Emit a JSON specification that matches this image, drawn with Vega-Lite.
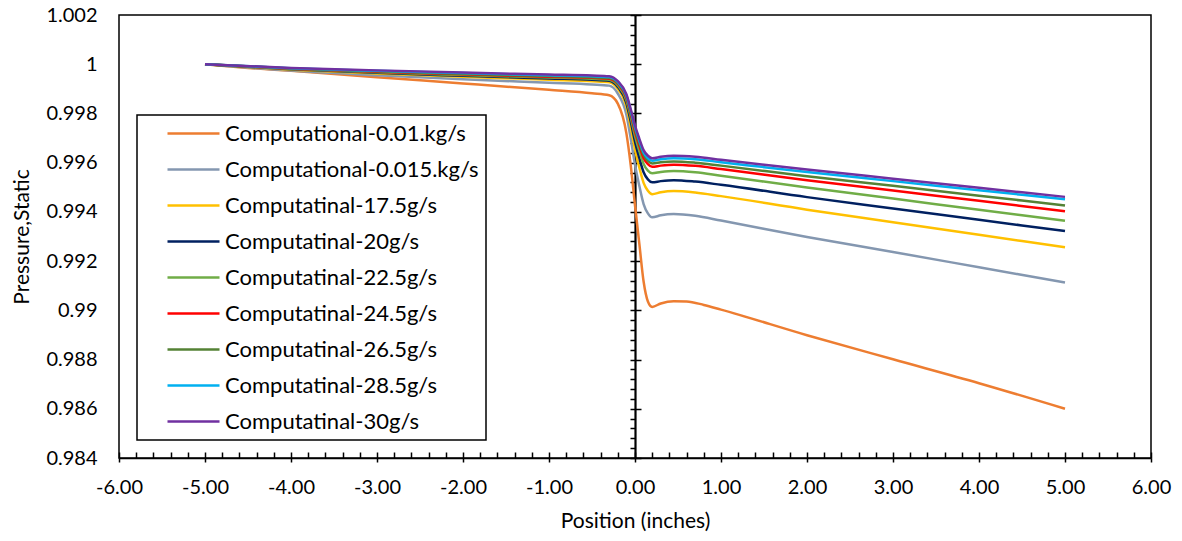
{
"$schema": "https://vega.github.io/schema/vega-lite/v6.json",
"width": 1032, "height": 443,
"autosize": "none",
"padding": {"left": 119, "top": 15, "right": 31, "bottom": 83},
"background": "white",
"config": {"view": {"stroke": "black", "strokeWidth": 1.5}, "font": "Lato",
  "locale": {"number": {"decimal": ".", "thousands": ",", "grouping": [3], "currency": ["$", ""], "minus": "-"}},
  "axis": {"labelColor": "black", "tickColor": "black", "domainColor": "black", "titleColor": "black", "grid": false}},
"data": {"values": [
{"s":"Computational-0.01.kg/s","x":-5,"y":1.0},{"s":"Computational-0.01.kg/s","x":-4.5,"y":0.99985},{"s":"Computational-0.01.kg/s","x":-4,"y":0.99973},{"s":"Computational-0.01.kg/s","x":-3,"y":0.99947},{"s":"Computational-0.01.kg/s","x":-2,"y":0.99922},{"s":"Computational-0.01.kg/s","x":-1,"y":0.99896},{"s":"Computational-0.01.kg/s","x":-0.5,"y":0.99882},{"s":"Computational-0.01.kg/s","x":-0.3,"y":0.99874},{"s":"Computational-0.01.kg/s","x":-0.2,"y":0.9984},{"s":"Computational-0.01.kg/s","x":-0.1,"y":0.99719},{"s":"Computational-0.01.kg/s","x":-0.05,"y":0.9959},{"s":"Computational-0.01.kg/s","x":0,"y":0.99427},{"s":"Computational-0.01.kg/s","x":0.05,"y":0.99272},{"s":"Computational-0.01.kg/s","x":0.1,"y":0.99117},{"s":"Computational-0.01.kg/s","x":0.15,"y":0.99036},{"s":"Computational-0.01.kg/s","x":0.2,"y":0.99014},{"s":"Computational-0.01.kg/s","x":0.3,"y":0.99028},{"s":"Computational-0.01.kg/s","x":0.45,"y":0.99037},{"s":"Computational-0.01.kg/s","x":0.6,"y":0.99036},{"s":"Computational-0.01.kg/s","x":0.8,"y":0.99022},{"s":"Computational-0.01.kg/s","x":1,"y":0.99003},{"s":"Computational-0.01.kg/s","x":2,"y":0.98899},{"s":"Computational-0.01.kg/s","x":3,"y":0.98801},{"s":"Computational-0.01.kg/s","x":4,"y":0.98704},{"s":"Computational-0.01.kg/s","x":5,"y":0.986},
{"s":"Computational-0.015.kg/s","x":-5,"y":1.0},{"s":"Computational-0.015.kg/s","x":-4,"y":0.99974},{"s":"Computational-0.015.kg/s","x":-3,"y":0.99955},{"s":"Computational-0.015.kg/s","x":-2,"y":0.99939},{"s":"Computational-0.015.kg/s","x":-1,"y":0.99925},{"s":"Computational-0.015.kg/s","x":-0.5,"y":0.99918},{"s":"Computational-0.015.kg/s","x":-0.3,"y":0.99913},{"s":"Computational-0.015.kg/s","x":-0.2,"y":0.99881},{"s":"Computational-0.015.kg/s","x":-0.1,"y":0.99795},{"s":"Computational-0.015.kg/s","x":-0.05,"y":0.99699},{"s":"Computational-0.015.kg/s","x":0,"y":0.99592},{"s":"Computational-0.015.kg/s","x":0.05,"y":0.99506},{"s":"Computational-0.015.kg/s","x":0.1,"y":0.99432},{"s":"Computational-0.015.kg/s","x":0.15,"y":0.99394},{"s":"Computational-0.015.kg/s","x":0.2,"y":0.99378},{"s":"Computational-0.015.kg/s","x":0.3,"y":0.99386},{"s":"Computational-0.015.kg/s","x":0.45,"y":0.99391},{"s":"Computational-0.015.kg/s","x":0.7,"y":0.99384},{"s":"Computational-0.015.kg/s","x":1,"y":0.99365},{"s":"Computational-0.015.kg/s","x":2,"y":0.99298},{"s":"Computational-0.015.kg/s","x":3,"y":0.99237},{"s":"Computational-0.015.kg/s","x":4,"y":0.99175},{"s":"Computational-0.015.kg/s","x":5,"y":0.99113},
{"s":"Computatinal-17.5g/s","x":-5,"y":1.0},{"s":"Computatinal-17.5g/s","x":-4,"y":0.99978},{"s":"Computatinal-17.5g/s","x":-3,"y":0.99962},{"s":"Computatinal-17.5g/s","x":-2,"y":0.99949},{"s":"Computatinal-17.5g/s","x":-1,"y":0.99937},{"s":"Computatinal-17.5g/s","x":-0.5,"y":0.99931},{"s":"Computatinal-17.5g/s","x":-0.3,"y":0.99927},{"s":"Computatinal-17.5g/s","x":-0.2,"y":0.999},{"s":"Computatinal-17.5g/s","x":-0.1,"y":0.99827},{"s":"Computatinal-17.5g/s","x":-0.05,"y":0.99745},{"s":"Computatinal-17.5g/s","x":0,"y":0.99654},{"s":"Computatinal-17.5g/s","x":0.05,"y":0.99581},{"s":"Computatinal-17.5g/s","x":0.1,"y":0.99518},{"s":"Computatinal-17.5g/s","x":0.15,"y":0.99486},{"s":"Computatinal-17.5g/s","x":0.2,"y":0.99472},{"s":"Computatinal-17.5g/s","x":0.3,"y":0.9948},{"s":"Computatinal-17.5g/s","x":0.45,"y":0.99485},{"s":"Computatinal-17.5g/s","x":0.7,"y":0.99479},{"s":"Computatinal-17.5g/s","x":1,"y":0.99464},{"s":"Computatinal-17.5g/s","x":2,"y":0.99409},{"s":"Computatinal-17.5g/s","x":3,"y":0.99358},{"s":"Computatinal-17.5g/s","x":4,"y":0.99307},{"s":"Computatinal-17.5g/s","x":5,"y":0.99256},
{"s":"Computatinal-20g/s","x":-5,"y":1.0},{"s":"Computatinal-20g/s","x":-4,"y":0.9998},{"s":"Computatinal-20g/s","x":-3,"y":0.99965},{"s":"Computatinal-20g/s","x":-2,"y":0.99953},{"s":"Computatinal-20g/s","x":-1,"y":0.99942},{"s":"Computatinal-20g/s","x":-0.5,"y":0.99937},{"s":"Computatinal-20g/s","x":-0.3,"y":0.99933},{"s":"Computatinal-20g/s","x":-0.2,"y":0.99908},{"s":"Computatinal-20g/s","x":-0.1,"y":0.99842},{"s":"Computatinal-20g/s","x":-0.05,"y":0.99768},{"s":"Computatinal-20g/s","x":0,"y":0.99685},{"s":"Computatinal-20g/s","x":0.05,"y":0.99619},{"s":"Computatinal-20g/s","x":0.1,"y":0.99561},{"s":"Computatinal-20g/s","x":0.15,"y":0.99532},{"s":"Computatinal-20g/s","x":0.2,"y":0.9952},{"s":"Computatinal-20g/s","x":0.3,"y":0.99525},{"s":"Computatinal-20g/s","x":0.45,"y":0.99529},{"s":"Computatinal-20g/s","x":0.7,"y":0.99523},{"s":"Computatinal-20g/s","x":1,"y":0.9951},{"s":"Computatinal-20g/s","x":2,"y":0.9946},{"s":"Computatinal-20g/s","x":3,"y":0.99414},{"s":"Computatinal-20g/s","x":4,"y":0.99368},{"s":"Computatinal-20g/s","x":5,"y":0.99322},
{"s":"Computatinal-22.5g/s","x":-5,"y":1.0},{"s":"Computatinal-22.5g/s","x":-4,"y":0.99981},{"s":"Computatinal-22.5g/s","x":-3,"y":0.99967},{"s":"Computatinal-22.5g/s","x":-2,"y":0.99956},{"s":"Computatinal-22.5g/s","x":-1,"y":0.99946},{"s":"Computatinal-22.5g/s","x":-0.5,"y":0.99941},{"s":"Computatinal-22.5g/s","x":-0.3,"y":0.99937},{"s":"Computatinal-22.5g/s","x":-0.2,"y":0.99914},{"s":"Computatinal-22.5g/s","x":-0.1,"y":0.99853},{"s":"Computatinal-22.5g/s","x":-0.05,"y":0.99785},{"s":"Computatinal-22.5g/s","x":0,"y":0.99709},{"s":"Computatinal-22.5g/s","x":0.05,"y":0.99648},{"s":"Computatinal-22.5g/s","x":0.1,"y":0.99595},{"s":"Computatinal-22.5g/s","x":0.15,"y":0.99568},{"s":"Computatinal-22.5g/s","x":0.2,"y":0.99557},{"s":"Computatinal-22.5g/s","x":0.3,"y":0.99562},{"s":"Computatinal-22.5g/s","x":0.45,"y":0.99566},{"s":"Computatinal-22.5g/s","x":0.7,"y":0.99561},{"s":"Computatinal-22.5g/s","x":1,"y":0.99547},{"s":"Computatinal-22.5g/s","x":2,"y":0.99499},{"s":"Computatinal-22.5g/s","x":3,"y":0.99454},{"s":"Computatinal-22.5g/s","x":4,"y":0.99409},{"s":"Computatinal-22.5g/s","x":5,"y":0.99364},
{"s":"Computatinal-24.5g/s","x":-5,"y":1.0},{"s":"Computatinal-24.5g/s","x":-4,"y":0.99982},{"s":"Computatinal-24.5g/s","x":-3,"y":0.99969},{"s":"Computatinal-24.5g/s","x":-2,"y":0.99959},{"s":"Computatinal-24.5g/s","x":-1,"y":0.99949},{"s":"Computatinal-24.5g/s","x":-0.5,"y":0.99945},{"s":"Computatinal-24.5g/s","x":-0.3,"y":0.99941},{"s":"Computatinal-24.5g/s","x":-0.2,"y":0.9992},{"s":"Computatinal-24.5g/s","x":-0.1,"y":0.99862},{"s":"Computatinal-24.5g/s","x":-0.05,"y":0.99798},{"s":"Computatinal-24.5g/s","x":0,"y":0.99726},{"s":"Computatinal-24.5g/s","x":0.05,"y":0.99669},{"s":"Computatinal-24.5g/s","x":0.1,"y":0.99619},{"s":"Computatinal-24.5g/s","x":0.15,"y":0.99594},{"s":"Computatinal-24.5g/s","x":0.2,"y":0.99583},{"s":"Computatinal-24.5g/s","x":0.3,"y":0.99588},{"s":"Computatinal-24.5g/s","x":0.45,"y":0.99592},{"s":"Computatinal-24.5g/s","x":0.7,"y":0.99587},{"s":"Computatinal-24.5g/s","x":1,"y":0.99574},{"s":"Computatinal-24.5g/s","x":2,"y":0.99529},{"s":"Computatinal-24.5g/s","x":3,"y":0.99487},{"s":"Computatinal-24.5g/s","x":4,"y":0.99445},{"s":"Computatinal-24.5g/s","x":5,"y":0.99403},
{"s":"Computatinal-26.5g/s","x":-5,"y":1.0},{"s":"Computatinal-26.5g/s","x":-4,"y":0.99983},{"s":"Computatinal-26.5g/s","x":-3,"y":0.99971},{"s":"Computatinal-26.5g/s","x":-2,"y":0.99961},{"s":"Computatinal-26.5g/s","x":-1,"y":0.99952},{"s":"Computatinal-26.5g/s","x":-0.5,"y":0.99947},{"s":"Computatinal-26.5g/s","x":-0.3,"y":0.99944},{"s":"Computatinal-26.5g/s","x":-0.2,"y":0.99923},{"s":"Computatinal-26.5g/s","x":-0.1,"y":0.99868},{"s":"Computatinal-26.5g/s","x":-0.05,"y":0.99805},{"s":"Computatinal-26.5g/s","x":0,"y":0.99736},{"s":"Computatinal-26.5g/s","x":0.05,"y":0.9968},{"s":"Computatinal-26.5g/s","x":0.1,"y":0.99632},{"s":"Computatinal-26.5g/s","x":0.15,"y":0.99607},{"s":"Computatinal-26.5g/s","x":0.2,"y":0.99597},{"s":"Computatinal-26.5g/s","x":0.3,"y":0.99602},{"s":"Computatinal-26.5g/s","x":0.45,"y":0.99605},{"s":"Computatinal-26.5g/s","x":0.7,"y":0.996},{"s":"Computatinal-26.5g/s","x":1,"y":0.99588},{"s":"Computatinal-26.5g/s","x":2,"y":0.99545},{"s":"Computatinal-26.5g/s","x":3,"y":0.99506},{"s":"Computatinal-26.5g/s","x":4,"y":0.99466},{"s":"Computatinal-26.5g/s","x":5,"y":0.99426},
{"s":"Computatinal-28.5g/s","x":-5,"y":1.0},{"s":"Computatinal-28.5g/s","x":-4,"y":0.99984},{"s":"Computatinal-28.5g/s","x":-3,"y":0.99973},{"s":"Computatinal-28.5g/s","x":-2,"y":0.99964},{"s":"Computatinal-28.5g/s","x":-1,"y":0.99955},{"s":"Computatinal-28.5g/s","x":-0.5,"y":0.99951},{"s":"Computatinal-28.5g/s","x":-0.3,"y":0.99948},{"s":"Computatinal-28.5g/s","x":-0.2,"y":0.99928},{"s":"Computatinal-28.5g/s","x":-0.1,"y":0.99873},{"s":"Computatinal-28.5g/s","x":-0.05,"y":0.99812},{"s":"Computatinal-28.5g/s","x":0,"y":0.99744},{"s":"Computatinal-28.5g/s","x":0.05,"y":0.9969},{"s":"Computatinal-28.5g/s","x":0.1,"y":0.99642},{"s":"Computatinal-28.5g/s","x":0.15,"y":0.99618},{"s":"Computatinal-28.5g/s","x":0.2,"y":0.99608},{"s":"Computatinal-28.5g/s","x":0.3,"y":0.99614},{"s":"Computatinal-28.5g/s","x":0.45,"y":0.99618},{"s":"Computatinal-28.5g/s","x":0.7,"y":0.99614},{"s":"Computatinal-28.5g/s","x":1,"y":0.99602},{"s":"Computatinal-28.5g/s","x":2,"y":0.99562},{"s":"Computatinal-28.5g/s","x":3,"y":0.99525},{"s":"Computatinal-28.5g/s","x":4,"y":0.99488},{"s":"Computatinal-28.5g/s","x":5,"y":0.99451},
{"s":"Computatinal-30g/s","x":-5,"y":1.0},{"s":"Computatinal-30g/s","x":-4,"y":0.99985},{"s":"Computatinal-30g/s","x":-3,"y":0.99975},{"s":"Computatinal-30g/s","x":-2,"y":0.99966},{"s":"Computatinal-30g/s","x":-1,"y":0.99958},{"s":"Computatinal-30g/s","x":-0.5,"y":0.99954},{"s":"Computatinal-30g/s","x":-0.3,"y":0.99951},{"s":"Computatinal-30g/s","x":-0.2,"y":0.99931},{"s":"Computatinal-30g/s","x":-0.1,"y":0.99878},{"s":"Computatinal-30g/s","x":-0.05,"y":0.99818},{"s":"Computatinal-30g/s","x":0,"y":0.99751},{"s":"Computatinal-30g/s","x":0.05,"y":0.99698},{"s":"Computatinal-30g/s","x":0.1,"y":0.99651},{"s":"Computatinal-30g/s","x":0.15,"y":0.99628},{"s":"Computatinal-30g/s","x":0.2,"y":0.99618},{"s":"Computatinal-30g/s","x":0.3,"y":0.99624},{"s":"Computatinal-30g/s","x":0.45,"y":0.99628},{"s":"Computatinal-30g/s","x":0.7,"y":0.99624},{"s":"Computatinal-30g/s","x":1,"y":0.99612},{"s":"Computatinal-30g/s","x":2,"y":0.99572},{"s":"Computatinal-30g/s","x":3,"y":0.99535},{"s":"Computatinal-30g/s","x":4,"y":0.99498},{"s":"Computatinal-30g/s","x":5,"y":0.99461}
]},
"resolve": {"axis": {"x": "independent", "y": "independent"}},
"layer": [
{"mark": {"type": "point", "opacity": 0},
 "encoding": {
  "x": {"field": "x", "type": "quantitative", "scale": {"domain": [-6, 6], "nice": false, "zero": false},
    "axis": {"orient": "bottom", "values": [-6,-5.8,-5.6,-5.4,-5.2,-5,-4.8,-4.6,-4.4,-4.2,-4,-3.8,-3.6,-3.4,-3.2,-3,-2.8,-2.6,-2.4,-2.2,-2,-1.8,-1.6,-1.4,-1.2,-1,-0.8,-0.6,-0.4,-0.2,0,0.2,0.4,0.6,0.8,1,1.2,1.4,1.6,1.8,2,2.2,2.4,2.6,2.8,3,3.2,3.4,3.6,3.8,4,4.2,4.4,4.6,4.8,5,5.2,5.4,5.6,5.8,6],
      "tickSize": -6, "tickWidth": 1.5, "labels": false, "domain": false, "title": null}},
  "y": {"field": "y", "type": "quantitative", "scale": {"domain": [0.984, 1.002], "nice": false, "zero": false},
    "axis": {"orient": "left", "offset": -516, "values": [0.984,0.9844,0.9848,0.9852,0.9856,0.986,0.9864,0.9868,0.9872,0.9876,0.988,0.9884,0.9888,0.9892,0.9896,0.99,0.9904,0.9908,0.9912,0.9916,0.992,0.9924,0.9928,0.9932,0.9936,0.994,0.9944,0.9948,0.9952,0.9956,0.996,0.9964,0.9968,0.9972,0.9976,0.998,0.9984,0.9988,0.9992,0.9996,1,1.0004,1.0008,1.0012,1.0016,1.002],
      "tickSize": 5, "tickWidth": 1.5, "labels": false, "domain": true, "domainWidth": 2.2, "title": null}}
 }},
{"mark": {"type": "point", "opacity": 0},
 "encoding": {
  "x": {"field": "x", "type": "quantitative", "scale": {"domain": [-6, 6], "nice": false, "zero": false}, "axis": null},
  "y": {"field": "y", "type": "quantitative", "scale": {"domain": [0.984, 1.002], "nice": false, "zero": false},
    "axis": {"orient": "right", "offset": -516, "values": [0.984,0.986,0.988,0.99,0.992,0.994,0.996,0.998,1,1.002],
      "tickSize": 6, "tickWidth": 1.5, "labels": false, "domain": false, "title": null}}
 }},
{"mark": {"type": "line", "interpolate": "monotone", "strokeWidth": 2.5},
 "encoding": {
  "x": {"field": "x", "type": "quantitative", "scale": {"domain": [-6, 6], "nice": false, "zero": false},
    "axis": {"orient": "bottom", "values": [-6,-5,-4,-3,-2,-1,0,1,2,3,4,5,6], "format": ".2f", "tickSize": 4, "tickWidth": 1.5,
      "domain": true, "domainWidth": 1.5, "labelFontSize": 20, "labelPadding": 15, "labelFlush": false,
      "title": "Position (inches)", "titleFontSize": 21, "titleFontWeight": "normal", "titlePadding": 13}},
  "y": {"field": "y", "type": "quantitative", "scale": {"domain": [0.984, 1.002], "nice": false, "zero": false},
    "axis": {"orient": "left", "values": [0.984,0.986,0.988,0.99,0.992,0.994,0.996,0.998,1,1.002], "format": ".3~f",
      "ticks": false, "tickSize": 0, "domain": false, "labelPadding": 22, "labelFontSize": 20, "labelFlush": false,
      "title": "Pressure,Static", "titleFontSize": 21, "titleFontWeight": "normal", "titlePadding": 13}},
  "color": {"field": "s", "type": "nominal",
    "scale": {"domain": ["Computational-0.01.kg/s","Computational-0.015.kg/s","Computatinal-17.5g/s","Computatinal-20g/s","Computatinal-22.5g/s","Computatinal-24.5g/s","Computatinal-26.5g/s","Computatinal-28.5g/s","Computatinal-30g/s"],
      "range": ["#ED7D31","#8497B0","#FFC000","#002060","#70AD47","#FF0000","#548235","#00B0F0","#7030A0"]},
    "legend": {"orient": "none", "legendX": 18, "legendY": 100, "title": null, "strokeColor": "black",
      "fillColor": "white", "padding": 7, "symbolType": "M-2.6,0H2.6", "symbolSize": 400, "symbolStrokeWidth": 2.5,
      "symbolOffset": 38, "labelOffset": 20, "labelFontSize": 22, "labelColor": "black", "labelLimit": 400, "rowPadding": 13,
      "encode": {"legend": {"update": {"strokeWidth": {"value": 1.5}}}}}}
 }}
]
}
